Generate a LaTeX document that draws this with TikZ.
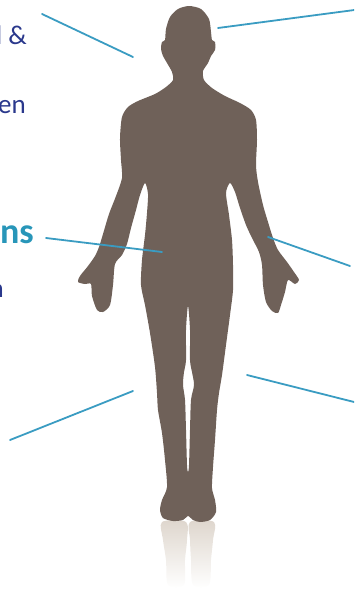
\documentclass[tikz,border=0pt]{standalone}
\usepackage{fontspec}
\setmainfont{Carlito}
\definecolor{skin}{RGB}{111,97,89}
\definecolor{navy}{RGB}{42,56,140}
\definecolor{tealtext}{RGB}{40,150,185}
\definecolor{leader}{RGB}{58,156,194}
\definecolor{shadowtop}{RGB}{222,214,205}
\begin{document}
\begin{tikzpicture}[x=1pt,y=-1pt,
  label/.style={inner sep=0pt, anchor=base east, text=navy, font=\fontsize{27}{31}\selectfont},
  biglabel/.style={inner sep=0pt, anchor=base east, text=tealtext, font=\fontsize{36}{40}\selectfont\bfseries},
  leaderline/.style={draw=leader, line width=1.8pt, line cap=round}]
\useasboundingbox (0,0) rectangle (354,589);
\clip (0,0) rectangle (354,589);

% faint reflection under the feet
\shade[top color=shadowtop, bottom color=white]
  plot[smooth cycle, tension=0.5] coordinates {
    (162,522) (186,522) (187,540) (185,560) (184,585)
    (168,585) (166,560) (163,540)};
\shade[top color=shadowtop, bottom color=white]
  plot[smooth cycle, tension=0.5] coordinates {
    (190,522) (214,522) (213,540) (211,560) (209,585)
    (193,585) (191,560) (190,540)};

% body silhouette, with the gap between the legs cut out
\fill[skin, even odd rule]
  plot[smooth cycle, tension=0.45] coordinates {
    (189,6) (201,9) (209,19) (211,32) (212,40)
    (215,42) (215,50) (211,56)
    (208,63) (203,71) (204,80)
    (212,88) (225,96) (240,103) (251,110)
    (256,120) (257,140) (256,165) (258,182)
    (263,205) (268,222) (273,238) (278,250)
    (287,262) (294,272) (299,280) (295,284) (288,280)
    (285,292) (281,305) (278,313) (272,311) (266,302)
    (263,285) (262,265) (259,252)
    (252,238) (246,225) (240,208) (235,192) (230,183)
    (226,193) (229,215) (232,240) (233,265) (233,290)
    (230,315) (226,345) (222,375)
    (219,393) (217,410) (215,440) (213,467) (212,488)
    (215,500) (216,512) (210,520) (200,522) (193,520) (188,516)
    (183,520) (173,521) (163,518) (160,510) (162,500) (167,487)
    (165,460) (162,433) (158,410) (157,393) (155,367)
    (150,333) (145,305) (141,285)
    (142,260) (145,235) (147,213) (148,194) (145,183)
    (140,195) (136,210) (131,228) (127,244) (122,255)
    (115,264) (113,285) (110,305) (103,312) (97,310)
    (92,296) (91,284) (85,284) (78,282) (80,276) (88,266) (95,256)
    (99,247) (103,234) (109,214) (116,196)
    (122,178) (121,160) (120,138) (122,117)
    (128,107) (138,101) (155,94) (166,87) (173,80)
    (172,72) (167,63) (163,56) (161,49) (162,42) (165,40)
    (166,29) (170,17) (178,9)}
  plot[smooth cycle, tension=0.5] coordinates {
    (188,306) (190,330) (190,360) (192,372) (194,385)
    (191,400) (190,430) (189,465) (188,472)
    (187,465) (186,430) (185,400) (183,385)
    (184,372) (186,360) (186,330)};

% labels at the left edge
\node[label] (t1) at (27,44) {l \&};
\node[label] (t2) at (26,113) {en};
\node[biglabel] (t3) at (34,243) {ns};
\node[label] (t4) at (4,297) {n};

% leader line end points
\coordinate (a1) at (42,14);
\coordinate (b1) at (133,57);
\coordinate (a2) at (218,28);
\coordinate (b2) at (362,9);
\coordinate (a3) at (46,238);
\coordinate (b3) at (162,252);
\coordinate (a4) at (268,237);
\coordinate (b4) at (350,266);
\coordinate (a5) at (247,375);
\coordinate (b5) at (362,404);
\coordinate (a6) at (10,440);
\coordinate (b6) at (133,391);

\draw[leaderline] (a1) -- (b1);
\draw[leaderline] (a2) -- (b2);
\draw[leaderline] (a3) -- (b3);
\draw[leaderline] (a4) -- (b4);
\draw[leaderline] (a5) -- (b5);
\draw[leaderline] (a6) -- (b6);
\end{tikzpicture}
\end{document}
